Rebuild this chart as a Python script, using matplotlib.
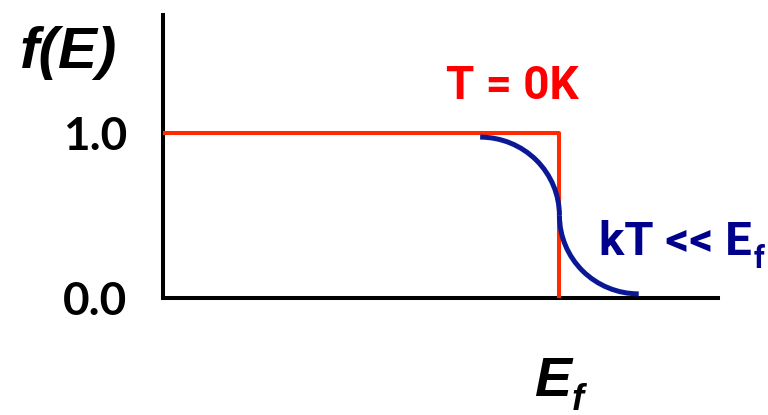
import matplotlib
matplotlib.use("Agg")
import matplotlib.pyplot as plt
from matplotlib.patches import Arc

# Fermi level and occupancy levels
e_fermi = 1.0
e_max = 1.4
f_max = 1.715
yticks = [0.0, 1.0]
ytick_labels = ["0.0", "1.0"]

# T = 0 K step
step_e = [0.0, e_fermi, e_fermi]
step_f = [1.0, 1.0, 0.0]

# finite-temperature smearing sketch: start, inflection, end
kt_start = (0.8, 0.975)
kt_mid = (1.0, 0.5)
kt_end = (1.2, 0.025)

red = "#ff2a00"
navy = "#0a1896"

fig = plt.figure(figsize=(7.68, 4.15), dpi=100)
ax = fig.add_axes([163 / 768, 1 - 298 / 415, 555 / 768, 283 / 415])
ax.set_xlim(0, e_max)
ax.set_ylim(0, f_max)

for s in ["top", "right"]:
    ax.spines[s].set_visible(False)
for s in ["left", "bottom"]:
    ax.spines[s].set_linewidth(2.9)
    ax.spines[s].set_capstyle("projecting")

ax.set_xticks([])
ax.set_yticks(yticks)
ax.set_yticklabels(ytick_labels, fontsize=33, fontweight="bold", family="Lato")
ax.tick_params(axis="y", length=0, pad=26)

ax.plot(step_e, step_f, color=red, lw=2.9, solid_capstyle="butt", zorder=3)

# two quarter arcs joined at the inflection point
w1 = 2 * (kt_mid[0] - kt_start[0])
h1 = 2 * (kt_start[1] - kt_mid[1])
ax.add_patch(Arc((kt_start[0], kt_mid[1]), w1, h1, theta1=0, theta2=90,
                 color=navy, lw=3.6, zorder=4))
w2 = 2 * (kt_end[0] - kt_mid[0])
h2 = 2 * (kt_mid[1] - kt_end[1])
ax.add_patch(Arc((kt_end[0], kt_mid[1]), w2, h2, theta1=180, theta2=270,
                 color=navy, lw=3.6, zorder=4))

ax.text(0.715, 1.206, "T = 0K", color="#ff0000", fontsize=33,
        fontweight="bold", family="Roboto", va="baseline")

kt = ax.text(1.101, 0.26, "kT << E", color="#00008c", fontsize=34,
             fontweight="bold", family="Roboto", va="baseline")
ax.annotate("f", xy=(1, 0), xycoords=kt, xytext=(1, -3), textcoords="offset points",
            color="#00008c", fontsize=22, fontweight="bold", family="Roboto",
            va="baseline")

ef = ax.text(0.937, -0.345, "E", transform=ax.get_xaxis_transform(),
             fontsize=40, fontweight="bold", fontstyle="italic",
             family="Liberation Sans", va="baseline")
ax.annotate("f", xy=(1, 0), xycoords=ef, xytext=(0, -2), textcoords="offset points",
            fontsize=26, fontweight="bold", fontstyle="italic",
            family="Liberation Sans", va="baseline")

fig.text(20 / 768, 1 - 68 / 415, "f(E)", fontsize=42, fontweight="bold",
         fontstyle="italic", family="Liberation Sans", va="baseline")

fig.savefig("out.png", dpi=100)
